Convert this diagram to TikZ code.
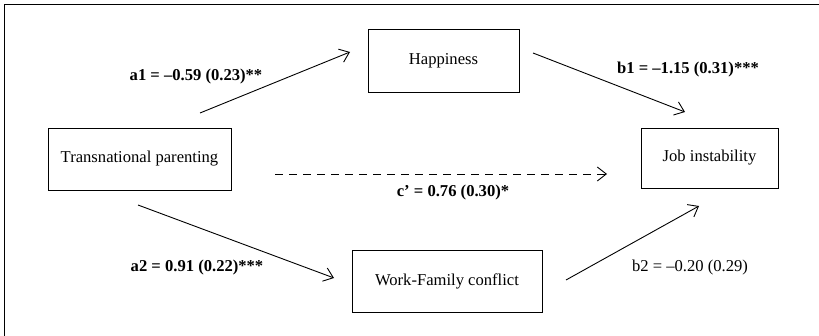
\documentclass[tikz,border=0pt]{standalone}
\usepackage{fontspec}
\setmainfont{Liberation Serif}
\usetikzlibrary{arrows.meta}
\tikzset{
	varbox/.style={draw, line width=0.9pt, minimum width=#1, inner sep=0pt},
	path/.style={line width=0.9pt, -{Straight Barb[length=9pt,width=14pt,line width=0.9pt]}},
	coef/.style={font=\fontsize{16.6}{20}\selectfont\bfseries}
}

\begin{document}
\begin{tikzpicture}[x=1pt,y=-1pt,font=\fontsize{16.6}{20}\selectfont]
			% Canvas and frame
			\useasboundingbox (0,0) rectangle (819,336);
			\draw[line width=1.3pt] (819,4.5) -- (4.5,4.5) -- (4.5,336);
			
			% Variables
			\node[varbox=183pt, minimum height=62pt] (tp)  at (139.5,159) {Transnational parenting};
			\node[varbox=151pt, minimum height=63pt] (hap) at (443.5,60.5) {Happiness};
			\node[varbox=137pt, minimum height=60pt] (job) at (709.5,158) {Job instability};
			\node[varbox=190pt, minimum height=62pt] (wfc) at (447,281) {Work-Family conflict};
			
			% Free ends of the paths
			\coordinate (a1s) at (200,113);
			\coordinate (a1e) at (350,52);
			\coordinate (b1s) at (533,53);
			\coordinate (b1e) at (685,112);
			\coordinate (cs)  at (275,174);
			\coordinate (ce)  at (607,174);
			\coordinate (a2s) at (138,205);
			\coordinate (a2e) at (334,278);
			\coordinate (b2s) at (566,280);
			\coordinate (b2e) at (699,206);
			
			% Paths
			\draw[path] (a1s) -- (a1e);
			\draw[path] (b1s) -- (b1e);
			\draw[path, dash pattern=on 8pt off 6pt] (cs) -- (ce);
			\draw[path] (a2s) -- (a2e);
			\draw[path] (b2s) -- (b2e);
			
			% Coefficients
			\node[coef] (a1) at (196,77) {a1 = –0.59 (0.23)**};
			\node[coef] (b1) at (688,70) {b1 = –1.15 (0.31)***};
			\node[coef] (c)  at (453,193) {c’ = 0.76 (0.30)*};
			\node[coef] (a2) at (197,268) {a2 = 0.91 (0.22)***};
			\node (b2) at (690,268) {b2 = –0.20 (0.29)};
			
		\end{tikzpicture}
\end{document}
